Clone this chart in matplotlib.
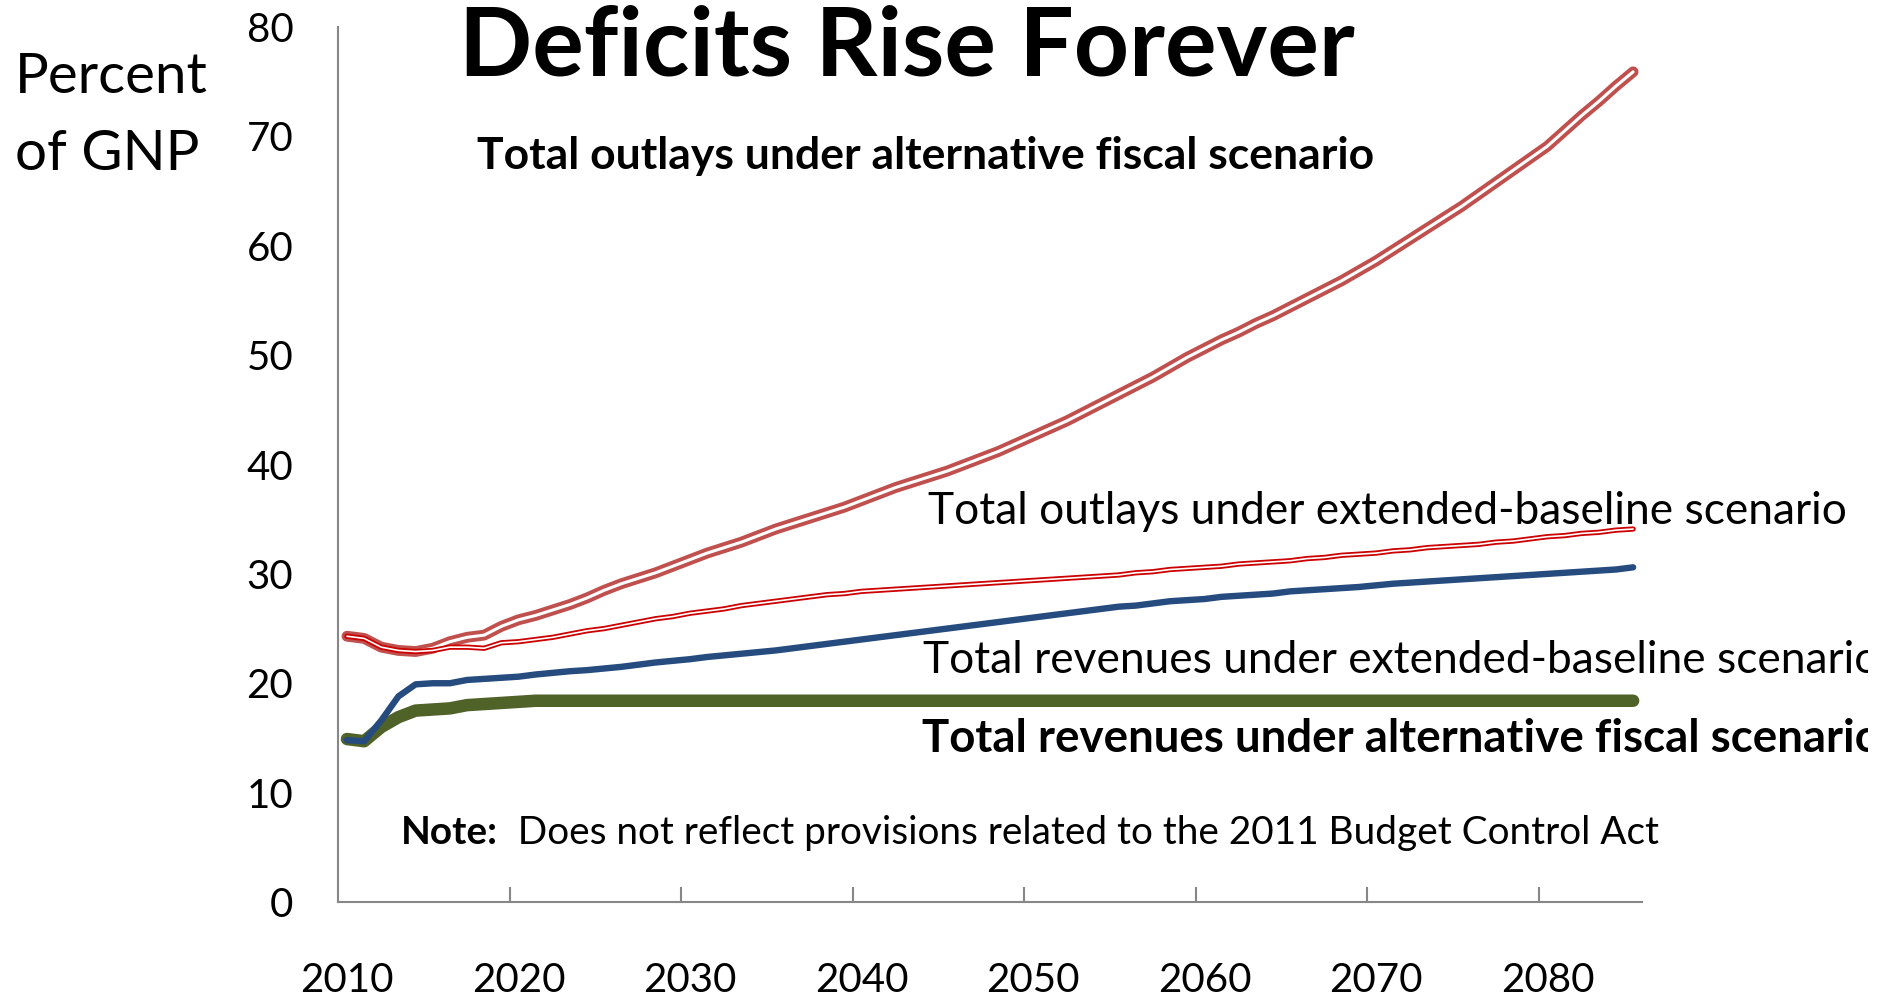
import numpy as np
import matplotlib
matplotlib.use("Agg")
import matplotlib.pyplot as plt
from matplotlib.transforms import Bbox, TransformedBbox

plt.rcParams["font.family"] = ["Lato", "DejaVu Sans"]

# ---- data: percent of GNP, 2010-2085 ----
years = np.arange(2010, 2086)

outlays_alternative = [
    24.3, 24.1, 23.3, 23.0, 22.9, 23.2, 23.8, 24.2, 24.4, 25.2,
    25.8, 26.2, 26.7, 27.2, 27.8, 28.5, 29.1, 29.6, 30.1, 30.7,
    31.3, 31.9, 32.4, 32.9, 33.5, 34.1, 34.6, 35.1, 35.6, 36.1,
    36.7, 37.3, 37.9, 38.4, 38.9, 39.4, 40.0, 40.6, 41.2, 41.9,
    42.6, 43.3, 44.0, 44.8, 45.6, 46.4, 47.2, 48.0, 48.9, 49.8,
    50.6, 51.4, 52.1, 52.9, 53.6, 54.4, 55.2, 56.0, 56.8, 57.7,
    58.6, 59.6, 60.6, 61.6, 62.6, 63.6, 64.7, 65.8, 66.9, 68.0,
    69.1, 70.5, 71.9, 73.2, 74.6, 75.9,
]

outlays_baseline = [
    24.3, 24.1, 23.3, 23.0, 22.9, 23.0, 23.3, 23.3, 23.2, 23.7,
    23.8, 24.0, 24.2, 24.5, 24.8, 25.0, 25.3, 25.6, 25.9, 26.1,
    26.4, 26.6, 26.8, 27.1, 27.3, 27.5, 27.7, 27.9, 28.1, 28.2,
    28.4, 28.5, 28.6, 28.7, 28.8, 28.9, 29.0, 29.1, 29.2, 29.3,
    29.4, 29.5, 29.6, 29.7, 29.8, 29.9, 30.1, 30.2, 30.4, 30.5,
    30.6, 30.7, 30.9, 31.0, 31.1, 31.2, 31.4, 31.5, 31.7, 31.8,
    31.9, 32.1, 32.2, 32.4, 32.5, 32.6, 32.7, 32.9, 33.0, 33.2,
    33.4, 33.5, 33.7, 33.8, 34.0, 34.1,
]

revenues_baseline = [
    14.8, 14.7, 16.6, 18.8, 19.9, 20.0, 20.0, 20.3, 20.4, 20.5,
    20.6, 20.8, 20.95, 21.1, 21.2, 21.35, 21.5, 21.7, 21.9, 22.05,
    22.2, 22.4, 22.55, 22.7, 22.85, 23.0, 23.2, 23.4, 23.6, 23.8,
    24.0, 24.2, 24.4, 24.6, 24.8, 25.0, 25.2, 25.4, 25.6, 25.8,
    26.0, 26.2, 26.4, 26.6, 26.8, 27.0, 27.1, 27.3, 27.5, 27.6,
    27.7, 27.9, 28.0, 28.1, 28.2, 28.4, 28.5, 28.6, 28.7, 28.8,
    28.95, 29.1, 29.2, 29.3, 29.4, 29.5, 29.6, 29.7, 29.8, 29.9,
    30.0, 30.1, 30.2, 30.3, 30.4, 30.6,
]

revenues_alternative = [
    14.9, 14.7, 16.0, 16.9, 17.5, 17.6, 17.7, 18.0, 18.1, 18.2,
    18.3,
] + [18.4] * 65

x_tick_labels = ["2010", "2020", "2030", "2040", "2050", "2060", "2070", "2080"]
y_ticks = [0, 10, 20, 30, 40, 50, 60, 70, 80]

W, H = 1895, 997
fig = plt.figure(figsize=(W / 100, H / 100), dpi=100)
fig.patch.set_facecolor("white")


def fx(px):
    return px / W


def fy(py):
    return 1 - py / H


ax = fig.add_axes([fx(338.4), fy(902), (1641.7 - 338.4) / W, (902 - 27) / H])

axis_gray = "#878787"

# lines
ax.plot(years, revenues_alternative, color="#4F6228", lw=9.0,
        solid_capstyle="round", solid_joinstyle="round", zorder=2)
ax.plot(years, revenues_baseline, color="#254B7F", lw=4.6,
        solid_capstyle="round", solid_joinstyle="round", zorder=3)
# double-stroke outlays lines
ax.plot(years, outlays_alternative, color="#C0504D", lw=7.8,
        solid_capstyle="round", solid_joinstyle="round", zorder=4)
ax.plot(years, outlays_alternative, color="white", lw=2.2,
        solid_capstyle="round", solid_joinstyle="round", zorder=5)
ax.plot(years, outlays_baseline, color="#CC0000", lw=3.8,
        solid_capstyle="round", solid_joinstyle="round", zorder=6)
ax.plot(years, outlays_baseline, color="white", lw=1.2,
        solid_capstyle="round", solid_joinstyle="round", zorder=7)

ax.set_xlim(2009.5, 2085.5)
ax.set_ylim(0, 80)

for s in ["top", "right"]:
    ax.spines[s].set_visible(False)
for s in ["left", "bottom"]:
    ax.spines[s].set_color(axis_gray)
    ax.spines[s].set_linewidth(1.5)

label_years = [int(t) for t in x_tick_labels]
ax.set_xticks(label_years)
ax.set_xticklabels(x_tick_labels)
ax.set_xticks([y - 0.5 for y in label_years[1:]], minor=True)
ax.tick_params(axis="x", which="major", length=0, pad=43, labelsize=29)
ax.tick_params(axis="x", which="minor", direction="in", length=10.8,
               width=1.5, color=axis_gray)
ax.set_yticks(y_ticks)
ax.tick_params(axis="y", length=0, pad=32.5, labelsize=29)
ax.set_facecolor("white")

# ---- text ----
renderer = fig.canvas.get_renderer()


def width_of(t):
    return t.get_window_extent(renderer=renderer).width


def fit(t, target):
    for _ in range(2):
        t.set_fontsize(t.get_fontsize() * target / width_of(t))


title = fig.text(fx(459), fy(76), "Deficits Rise Forever", ha="left",
                 va="baseline", fontsize=60, fontweight="bold")
fit(title, 895)

p1 = fig.text(fx(15), fy(93), "Percent", ha="left", va="baseline", fontsize=36)
fit(p1, 193)
p2 = fig.text(fx(15), fy(170), "of GNP", ha="left", va="baseline",
              fontsize=p1.get_fontsize())

alt_out = fig.text(fx(477), fy(169), "Total outlays under alternative fiscal scenario",
                   ha="left", va="baseline", fontsize=28, fontweight="bold")
fit(alt_out, 897)

base_out = fig.text(fx(928), fy(524), "Total outlays under extended-baseline scenario",
                    ha="left", va="baseline", fontsize=28)
fit(base_out, 919)

clip = TransformedBbox(Bbox.from_extents(0, 0, fx(1868), 1), fig.transFigure)
base_rev = fig.text(fx(923), fy(673), "Total revenues under extended-baseline scenario",
                    ha="left", va="baseline", fontsize=base_out.get_fontsize())
alt_rev = fig.text(fx(922), fy(752), "Total revenues under alternative fiscal scenario",
                   ha="left", va="baseline", fontsize=alt_out.get_fontsize() * 1.025,
                   fontweight="bold")
for t in (base_rev, alt_rev):
    t.set_clip_box(clip)
    t.set_clip_on(True)

note_b = fig.text(fx(401), fy(844), "Note:", ha="left", va="baseline",
                  fontsize=24, fontweight="bold")
note_r = fig.text(fx(500), fy(844), "  Does not reflect provisions related to the 2011 Budget Control Act",
                  ha="left", va="baseline", fontsize=24)
for _ in range(3):
    wb = width_of(note_b)
    note_r.set_x(fx(401 + wb))
    total = wb + width_of(note_r)
    k = 1259 / total
    note_b.set_fontsize(note_b.get_fontsize() * k)
    note_r.set_fontsize(note_r.get_fontsize() * k)
note_r.set_x(fx(401 + width_of(note_b)))

fig.savefig("out.png", dpi=100, facecolor="white")
